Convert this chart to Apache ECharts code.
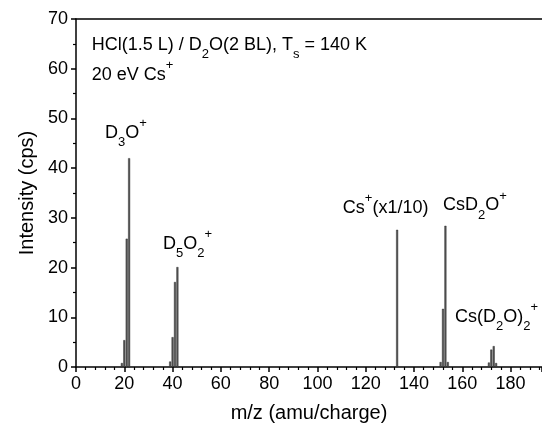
<!DOCTYPE html>
<html>
<head>
<meta charset="utf-8">
<script src="https://cdn.jsdelivr.net/npm/echarts@6/dist/echarts.min.js"></script>
<style>
  html, body { margin: 0; padding: 0; background: #fff; }
  #main { width: 542px; height: 428px; }
</style>
</head>
<body>
<div id="main"></div>
<script>
// peak positions (m/z) and intensities (cps)
var mz        = [19, 20, 21, 22, 39, 40, 41, 42, 133, 151, 152, 153, 154, 171, 172, 173, 174];
var intensity = [0.8, 5.4, 25.8, 42.0, 1.1, 6.0, 17.1, 20.1, 27.6, 1.0, 11.7, 28.4, 1.0, 0.9, 3.5, 4.2, 0.8];
var xTicks = [0, 20, 40, 60, 80, 100, 120, 140, 160, 180];
var yTicks = [0, 10, 20, 30, 40, 50, 60, 70];

var font = 'Liberation Sans, Arial, sans-serif';
var sub = { fontSize: 13, fontFamily: font, color: '#000', verticalAlign: 'bottom', padding: [0, 0, -7, 0] };
var sup = { fontSize: 13, fontFamily: font, color: '#000', verticalAlign: 'top', padding: [-7, 0, 0, 0] };

// annotation text, anchored in data coordinates (left edge, vertical centre)
var notes = [
  { at: [6.5, 64.8], text: 'HCl(1.5 L) / D{s|2}O(2 BL), T{s|s} = 140 K' },
  { at: [6.5, 58.8], text: '20 eV Cs{p|+}' },
  { at: [12, 47], text: 'D{s|3}O{p|+}' },
  { at: [36, 24.8], text: 'D{s|5}O{s|2}{p|+}' },
  { at: [110.5, 32], text: 'Cs{p|+}(x1/10)' },
  { at: [152, 32.5], text: 'CsD{s|2}O{p|+}' },
  { at: [157, 10], text: 'Cs(D{s|2}O){s|2}{p|+}' }
];

var myChart = echarts.init(document.getElementById('main'));

var option = {
  animation: false,
  backgroundColor: '#fff',
  grid: { left: 76, top: 19, right: 0, bottom: 61 },
  xAxis: [
    {
      type: 'value',
      min: 0,
      max: 193,
      interval: 20,
      name: 'm/z (amu/charge)',
      nameLocation: 'middle',
      nameGap: 36,
      nameTextStyle: { fontSize: 20, fontFamily: font, color: '#000' },
      axisLine: { lineStyle: { color: '#000', width: 1.5 } },
      axisTick: { length: 5, lineStyle: { color: '#000', width: 1.5 } },
      minorTick: { show: true, splitNumber: 5, length: 3, lineStyle: { color: '#000', width: 1.2 } },
      axisLabel: {
        fontSize: 18, fontFamily: font, color: '#000', margin: 8,
        customValues: xTicks
      },
      splitLine: { show: false }
    },
    {
      type: 'value',
      position: 'top',
      min: 0,
      max: 193,
      axisLine: { lineStyle: { color: '#000', width: 1.5 } },
      axisTick: { show: false },
      axisLabel: { show: false },
      splitLine: { show: false }
    }
  ],
  yAxis: {
    type: 'value',
    min: 0,
    max: 70,
    interval: 10,
    name: 'Intensity (cps)',
    nameLocation: 'middle',
    nameGap: 34,
    nameTextStyle: { fontSize: 20, fontFamily: font, color: '#000' },
    axisLine: { show: true, lineStyle: { color: '#000', width: 1.5 } },
    axisTick: { length: 5, lineStyle: { color: '#000', width: 1.5 } },
    minorTick: { show: true, splitNumber: 2, length: 3, lineStyle: { color: '#000', width: 1.2 } },
    axisLabel: { fontSize: 18, fontFamily: font, color: '#000', margin: 8, customValues: yTicks },
    splitLine: { show: false }
  },
  series: [
    {
      name: 'spectrum',
      type: 'bar',
      barWidth: 2,
      itemStyle: { color: '#555', borderColor: '#222', borderWidth: 0.4 },
      data: mz.map(function (m, i) { return [m, intensity[i]]; })
    }
  ]
};
myChart.setOption(option);

// place the peak labels using the chart's own coordinate system
myChart.setOption({
  graphic: notes.map(function (n) {
    var p = myChart.convertToPixel({ gridIndex: 0 }, n.at);
    return {
      type: 'text',
      x: p[0],
      y: p[1],
      style: {
        text: n.text,
        fontSize: 18,
        fontFamily: font,
        fill: '#000',
        align: 'left',
        verticalAlign: 'middle',
        rich: { s: sub, p: sup }
      }
    };
  })
});
</script>
</body>
</html>
